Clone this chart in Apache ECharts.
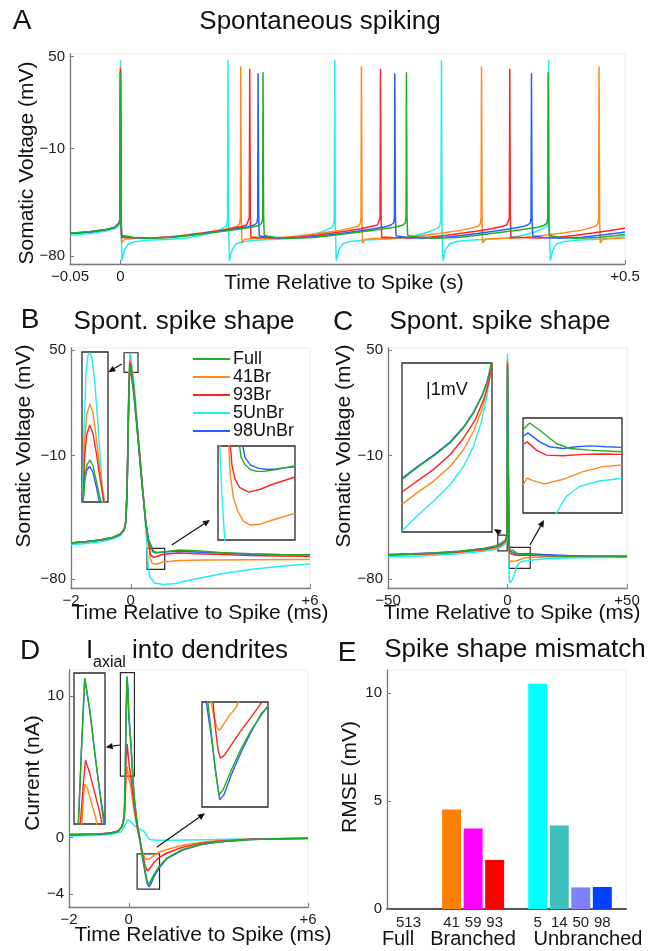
<!DOCTYPE html>
<html><head><meta charset="utf-8">
<script src="https://cdn.jsdelivr.net/npm/echarts@6/dist/echarts.min.js"></script>
<style>html,body{margin:0;padding:0;background:#fff}#c{width:654px;height:951px}</style>
</head><body><div id="c"></div><script>
// ---------- names / ticks ----------
const traceNames = ['Full','41Br','93Br','5UnBr','98UnBr'];
const aXTicks = [-0.05, 0, 0.5], aYTicks = [-80, -10, 50];
const bXTicks = [-2, 0, 6], bYTicks = [-80, -10, 50];
const cXTicks = [-50, 0, 50], cYTicks = [-80, -10, 50];
const dXTicks = [-2, 0, 6], dYTicks = [-4, 0, 10];
const eYTicks = [0, 5, 10];
// ---------- panel A : spontaneous spiking (s, mV) ----------
const aFull = [[-0.05,-65.2],[-0.03,-64.1],[-0.015,-62.8],[-0.006,-61.3],[-0.0012,-58.5],[-0.0004,-55],
[0,39.7],[0.0006,-55],[0.0012,-66.5],[0.004,-67],[0.012,-67.8],[0.028,-68.4],[0.05,-67.9],[0.066,-66.8],[0.082,-65.5],[0.098,-64.2],[0.115,-62.8],[0.13,-61.3],[0.1375,-60],[0.1401,-58.5],[0.1409,-55],
[0.1413,39.7],[0.1419,-55],[0.1425,-66.5],[0.1453,-67],[0.1533,-67.8],[0.1693,-68.4],[0.1913,-67.9],[0.2073,-66.8],[0.2233,-65.5],[0.2393,-64.2],[0.2563,-62.8],[0.2713,-61.3],[0.2796,-60],[0.2822,-58.5],[0.283,-55],
[0.2834,39.7],[0.284,-55],[0.2846,-66.5],[0.2874,-67],[0.2954,-67.8],[0.3114,-68.4],[0.3334,-67.9],[0.3494,-66.8],[0.3654,-65.5],[0.3814,-64.2],[0.3984,-62.8],[0.4134,-61.3],[0.42,-60],[0.4226,-58.5],[0.4234,-55],
[0.4238,39.7],[0.4244,-55],[0.425,-66.5],[0.4278,-67],[0.4358,-67.8],[0.4518,-68.4],[0.4738,-67.9],[0.4898,-66.8],[0.5,-66]];
const a98UnBr = [[-0.05,-65.4],[-0.03,-64.3],[-0.015,-63],[-0.006,-61.5],[-0.0012,-58.5],[-0.0004,-55],
[0,39],[0.0006,-55],[0.0012,-66.8],[0.004,-67.2],[0.012,-67.9],[0.028,-68.4],[0.05,-67.8],[0.066,-66.7],[0.082,-65.3],[0.098,-63.9],[0.113,-62.4],[0.126,-61],[0.1325,-59.8],[0.1352,-58.5],[0.136,-55],
[0.1364,39],[0.137,-55],[0.1376,-66.8],[0.1404,-67.2],[0.1484,-67.9],[0.1644,-68.4],[0.1864,-67.8],[0.2024,-66.7],[0.2184,-65.3],[0.2344,-63.9],[0.2494,-62.4],[0.2624,-61],[0.268,-59.8],[0.2707,-58.5],[0.2715,-55],
[0.2719,39],[0.2725,-55],[0.2731,-66.8],[0.2759,-67.2],[0.2839,-67.9],[0.2999,-68.4],[0.3219,-67.8],[0.3379,-66.7],[0.3539,-65.3],[0.3699,-63.9],[0.3849,-62.4],[0.3979,-61],[0.4034,-59.8],[0.4061,-58.5],[0.4069,-55],
[0.4073,39],[0.4079,-55],[0.4085,-66.8],[0.4113,-67.2],[0.4193,-67.9],[0.4353,-68.4],[0.4573,-67.8],[0.4733,-66.7],[0.4893,-65.3],[0.5,-64.4]];
const a93Br = [[-0.05,-65.3],[-0.03,-64.2],[-0.015,-62.9],[-0.006,-61.4],[-0.0012,-58.5],[-0.0004,-55],
[0,42],[0.0006,-55],[0.0012,-68],[0.004,-67.8],[0.012,-68],[0.028,-68.3],[0.05,-67.6],[0.066,-66.4],[0.082,-65],[0.098,-63.5],[0.11,-62.2],[0.12,-60.8],[0.1251,-59.8],[0.1269,-58.5],[0.1277,-55],
[0.1281,42],[0.1287,-55],[0.1293,-68],[0.1321,-67.8],[0.1401,-68],[0.1561,-68.3],[0.1781,-67.6],[0.1941,-66.4],[0.2101,-65],[0.2261,-63.5],[0.2381,-62.2],[0.2481,-60.8],[0.2547,-59.8],[0.2565,-58.5],[0.2573,-55],
[0.2577,42],[0.2583,-55],[0.2589,-68],[0.2617,-67.8],[0.2697,-68],[0.2857,-68.3],[0.3077,-67.6],[0.3237,-66.4],[0.3397,-65],[0.3557,-63.5],[0.3677,-62.2],[0.3777,-60.8],[0.3828,-59.8],[0.3846,-58.5],[0.3854,-55],
[0.3858,42],[0.3864,-55],[0.387,-68],[0.3898,-67.8],[0.3978,-68],[0.4138,-68.3],[0.4358,-67.6],[0.4518,-66.4],[0.4678,-65],[0.4838,-63.5],[0.4958,-62.2],[0.5,-61.7]];
const a41Br = [[-0.05,-65.3],[-0.03,-64.2],[-0.015,-62.9],[-0.006,-61.4],[-0.0012,-58.5],[-0.0004,-55],
[0,43.5],[0.0006,-58],[0.0012,-71.5],[0.004,-69],[0.012,-68.6],[0.028,-68.5],[0.05,-67.5],[0.066,-66.2],[0.082,-64.8],[0.098,-63.3],[0.108,-62],[0.1162,-60.5],[0.118,-59],[0.1188,-55],
[0.1192,43.5],[0.1198,-58],[0.1204,-71.5],[0.1232,-69],[0.1312,-68.6],[0.1472,-68.5],[0.1692,-67.5],[0.1852,-66.2],[0.2012,-64.8],[0.2172,-63.3],[0.2272,-62],[0.2358,-60.5],[0.2376,-59],[0.2384,-55],
[0.2388,43.5],[0.2394,-58],[0.24,-71.5],[0.2428,-69],[0.2508,-68.6],[0.2668,-68.5],[0.2888,-67.5],[0.3048,-66.2],[0.3208,-64.8],[0.3368,-63.3],[0.3468,-62],[0.3548,-60.5],[0.3566,-59],[0.3574,-55],
[0.3578,43.5],[0.3584,-58],[0.359,-71.5],[0.3618,-69],[0.3698,-68.6],[0.3858,-68.5],[0.4078,-67.5],[0.4238,-66.2],[0.4398,-64.8],[0.4558,-63.3],[0.4638,-62],[0.4713,-60.5],[0.4731,-59],[0.4739,-55],
[0.4743,43.5],[0.4749,-58],[0.4755,-71.5],[0.4783,-69],[0.4863,-68.6],[0.5,-68.5]];
const a5UnBr = [[-0.05,-66.5],[-0.03,-65.3],[-0.015,-63.9],[-0.006,-62.3],[-0.0012,-60],[-0.0004,-56],
[0,47.5],[0.0005,-60],[0.0015,-83],[0.004,-76],[0.008,-72],[0.015,-70.5],[0.03,-69.6],[0.05,-69],[0.065,-68.3],[0.08,-66.6],[0.092,-64.5],[0.1,-62.3],[0.1046,-60.8],[0.1061,-57],
[0.1066,47.5],[0.1071,-60],[0.1081,-83],[0.1106,-76],[0.1146,-72],[0.1216,-70.5],[0.1366,-69.6],[0.1566,-69],[0.1716,-68.3],[0.1866,-66.6],[0.1986,-64.5],[0.2066,-62.3],[0.2104,-60.8],[0.2119,-57],
[0.2124,47.5],[0.2129,-60],[0.2139,-83],[0.2164,-76],[0.2204,-72],[0.2274,-70.5],[0.2424,-69.6],[0.2624,-69],[0.2774,-68.3],[0.2924,-66.6],[0.3044,-64.5],[0.3124,-62.3],[0.3161,-60.8],[0.3176,-57],
[0.3181,47.5],[0.3186,-60],[0.3196,-83],[0.3221,-76],[0.3261,-72],[0.3331,-70.5],[0.3481,-69.6],[0.3681,-69],[0.3831,-68.3],[0.3981,-66.6],[0.4101,-64.5],[0.4181,-62.3],[0.4225,-60.8],[0.424,-57],
[0.4245,47.5],[0.425,-60],[0.426,-83],[0.4285,-76],[0.4325,-72],[0.4395,-70.5],[0.4545,-69.6],[0.4745,-69],[0.4895,-68.3],[0.5,-67.1]];
// ---------- panel B : spike shape (ms, mV) ----------
const bFull = [[-2,-59.4],[-1.5,-58.7],[-1,-57.7],[-0.6,-56.3],[-0.35,-54.5],[-0.22,-52],[-0.16,-47],[-0.12,-28],[-0.09,0],[-0.06,28],[-0.03,40.4],[0,39],[0.1,26],[0.2,8],[0.3,-11],[0.4,-30],[0.5,-47],[0.6,-58],[0.688,-62.2],[0.733,-64.5],[0.818,-65.25],[0.96,-65],[1.1,-64.6],[1.6,-63.6],[2.2,-64],[3,-64.9],[4,-65.7],[5,-66.1],[6,-66.4]];
const b41Br = [[-2,-59.5],[-1.5,-58.8],[-1,-57.8],[-0.6,-56.4],[-0.35,-54.6],[-0.22,-52],[-0.16,-47],[-0.12,-27],[-0.09,2],[-0.06,31],[-0.03,44.4],[0,43],[0.1,29],[0.2,10],[0.3,-9],[0.4,-29],[0.5,-47],[0.57,-57],[0.614,-62.2],[0.65,-68.4],[0.72,-71.2],[0.77,-71.7],[0.85,-71.6],[1,-70.8],[1.1,-70.3],[1.6,-69.5],[2.5,-69.2],[4,-69],[6,-68.9]];
const b93Br = [[-2,-59.5],[-1.5,-58.8],[-1,-57.8],[-0.6,-56.4],[-0.35,-54.6],[-0.22,-52],[-0.16,-47],[-0.12,-27],[-0.09,1],[-0.06,30],[-0.03,42.9],[0,41.5],[0.1,28],[0.2,9],[0.3,-10],[0.4,-30],[0.5,-48],[0.58,-58],[0.625,-62.2],[0.66,-66.2],[0.76,-67.7],[0.85,-67.4],[1,-66.4],[1.1,-65.9],[1.6,-65.3],[2.2,-65.6],[3,-66.1],[4,-66.6],[5,-66.9],[6,-67.1]];
const b5UnBr = [[-2,-60.5],[-1.5,-59.8],[-1,-58.8],[-0.6,-57.3],[-0.35,-55.3],[-0.22,-52.5],[-0.16,-47],[-0.12,-26],[-0.09,4],[-0.06,34],[-0.03,48],[0,46.5],[0.1,33],[0.2,12],[0.3,-8],[0.4,-29],[0.5,-51],[0.546,-62.2],[0.586,-73.5],[0.65,-79],[0.8,-82.3],[1.1,-83.1],[1.5,-82.6],[2,-80.6],[3,-77.2],[4,-74.6],[5,-72.8],[6,-71.5]];
const b98UnBr = [[-2,-59.5],[-1.5,-58.8],[-1,-57.8],[-0.6,-56.4],[-0.35,-54.6],[-0.22,-52],[-0.16,-47],[-0.12,-28.5],[-0.09,-0.5],[-0.06,27.5],[-0.03,39.9],[0,38.5],[0.1,25.5],[0.2,7.5],[0.3,-11.5],[0.4,-30.5],[0.5,-47.5],[0.6,-58],[0.71,-62.2],[0.77,-64.5],[0.83,-64.9],[0.89,-65],[1.03,-64.8],[1.1,-64.7],[1.6,-64.2],[2.2,-64.6],[3,-65.3],[4,-65.9],[5,-66.2],[6,-66.4]];
// ---------- panel C : spike shape, wide window (ms, mV) ----------
const cFull = [[-50,-66.2],[-40,-65.8],[-30,-65.2],[-20,-64.3],[-10,-62.8],[-5,-61.4],[-3.77,-60.7],[-2.3,-59.5],[-1.5,-58.8],[-0.9,-58.1],[-0.4,-57.3],[-0.2,-55],[-0.1,-20],[0,40.4],[0.15,20],[0.35,-20],[0.6,-58],[0.925,-63.5],[1.4,-62.8],[2.25,-63.7],[3.66,-65.2],[4.8,-65.8],[6.5,-66],[9.2,-66.2],[15,-66.6],[25,-66.9],[35,-67],[50,-67.1]];
const c41Br = [[-50,-66.5],[-40,-66.1],[-30,-65.6],[-20,-64.8],[-10,-63.5],[-5,-62.4],[-3.77,-61.9],[-2.3,-60.7],[-1.5,-60],[-0.9,-59.15],[-0.4,-58.2],[-0.2,-56],[-0.1,-20],[0,44.4],[0.15,23],[0.35,-18],[0.6,-62],[0.8,-70.5],[0.925,-70],[1.18,-69.4],[1.68,-69.65],[2.67,-70],[4.22,-69.5],[5.9,-68.6],[7.6,-68],[9.2,-67.8],[15,-67.5],[30,-67.3],[50,-67.3]];
const c93Br = [[-50,-66.4],[-40,-66],[-30,-65.5],[-20,-64.6],[-10,-63.2],[-5,-61.9],[-3.77,-61.3],[-2.3,-60.15],[-1.5,-59.4],[-0.9,-58.6],[-0.35,-57.6],[-0.2,-55.5],[-0.1,-20],[0,42.9],[0.15,22],[0.35,-19],[0.6,-60],[0.925,-65.2],[1.18,-65],[1.97,-66],[2.8,-66.6],[4.2,-66.7],[5.9,-66.5],[9.2,-66.5],[20,-66.9],[35,-67.1],[50,-67.2]];
const c5UnBr = [[-50,-67.5],[-40,-67.1],[-30,-66.5],[-20,-65.6],[-10,-64.3],[-5,-63.1],[-3.77,-62.5],[-2.3,-61.7],[-1.5,-60.9],[-0.9,-60],[-0.4,-58.5],[-0.2,-56],[-0.1,-20],[0,47.9],[0.15,25],[0.35,-16],[0.55,-62],[0.65,-76],[0.85,-82.3],[1.2,-83.1],[2,-80.5],[3,-77],[3.66,-73.5],[4.5,-71.5],[5.62,-70.35],[7.03,-69.76],[9.2,-69.36],[15,-68.7],[25,-68.1],[35,-67.8],[50,-67.6]];
const c98UnBr = [[-50,-66.1],[-40,-65.7],[-30,-65.1],[-20,-64.2],[-10,-62.7],[-5,-61.3],[-3.77,-60.6],[-2.3,-59.4],[-1.5,-58.7],[-0.9,-58],[-0.4,-57.2],[-0.2,-55],[-0.1,-20],[0,39.9],[0.15,19],[0.35,-21],[0.6,-58],[0.925,-64.2],[1.26,-64],[2.25,-65],[3.1,-65.6],[4.2,-65.8],[5.3,-65.6],[7.9,-65.6],[9.2,-65.7],[15,-66.1],[25,-66.6],[35,-66.9],[50,-67.1]];
// ---------- panel D : axial current (ms, nA) ----------
const dFull = [[-2,0.2],[-1,0.25],[-0.6,0.32],[-0.35,0.45],[-0.22,0.8],[-0.15,1.5],[-0.12,4],[-0.09,8.5],[-0.06,11.4],[-0.03,10.6],[0,8.8],[0.07,6.7],[0.18,2.9],[0.28,1.05],[0.37,0],[0.45,-1.2],[0.55,-2.4],[0.62,-3.1],[0.67,-3.32],[0.72,-3.2],[0.85,-2.6],[1,-2.1],[1.28,-1.44],[1.8,-0.85],[2.4,-0.5],[3,-0.3],[4.1,-0.14],[5,-0.09],[6,-0.07]];
const d41Br = [[-2,0.2],[-1,0.25],[-0.6,0.32],[-0.35,0.45],[-0.22,0.8],[-0.15,1.3],[-0.12,2.6],[-0.09,4.2],[-0.05,5],[0,4.2],[0.07,3.5],[0.18,1.9],[0.28,0.7],[0.37,-0.2],[0.45,-0.95],[0.55,-1.55],[0.6,-1.67],[0.68,-1.55],[0.85,-1.25],[1,-1.05],[1.28,-0.85],[1.8,-0.55],[2.4,-0.35],[3,-0.22],[4.1,-0.11],[6,-0.05]];
const d93Br = [[-2,0.2],[-1,0.25],[-0.6,0.32],[-0.35,0.45],[-0.22,0.8],[-0.15,1.4],[-0.12,3],[-0.09,5.5],[-0.05,6.6],[0,5.4],[0.07,4.3],[0.18,2.2],[0.28,0.8],[0.37,-0.2],[0.45,-1.1],[0.55,-2],[0.63,-2.38],[0.7,-2.2],[0.85,-1.75],[1,-1.45],[1.28,-1.1],[1.8,-0.7],[2.4,-0.42],[3,-0.27],[4.1,-0.13],[6,-0.06]];
const d5UnBr = [[-2,0.1],[-1,0.15],[-0.5,0.25],[-0.25,0.4],[-0.12,0.9],[-0.04,1.25],[0.05,1.15],[0.2,0.8],[0.35,0.6],[0.5,0.45],[0.6,0.15],[0.7,-0.14],[0.9,-0.2],[1.5,-0.2],[3,-0.15],[4.5,-0.1],[6,-0.06]];
const d98UnBr = [[-2,0.18],[-1,0.23],[-0.6,0.3],[-0.35,0.43],[-0.22,0.78],[-0.15,1.5],[-0.12,4],[-0.09,8.4],[-0.06,11.3],[-0.03,10.5],[0,8.7],[0.07,6.6],[0.18,2.8],[0.28,0.95],[0.37,-0.1],[0.45,-1.3],[0.55,-2.55],[0.62,-3.25],[0.68,-3.5],[0.74,-3.3],[0.85,-2.75],[1,-2.2],[1.28,-1.5],[1.8,-0.9],[2.4,-0.52],[3,-0.32],[4.1,-0.15],[5,-0.1],[6,-0.07]];
// ---------- insets (magnified views, own data) ----------
const bIn1Full = [[-0.245,37],[-0.2,39.3],[-0.16,40.1],[-0.105,40.4],[-0.05,40],[0.015,38.9],[0.08,37.8],[0.13,37]];
const bIn141Br = [[-0.24,37],[-0.21,41.7],[-0.17,43.6],[-0.11,44.4],[-0.05,43.8],[0.015,42],[0.09,39.5],[0.19,37]];
const bIn193Br = [[-0.24,37],[-0.21,40.6],[-0.17,42.2],[-0.11,42.9],[-0.05,42.3],[0.015,40.9],[0.09,39],[0.18,37]];
const bIn15UnBr = [[-0.25,37],[-0.22,42.75],[-0.185,46.5],[-0.15,47.8],[-0.11,48.05],[-0.07,47.7],[-0.02,46.2],[0.04,43.3],[0.1,40.1],[0.155,37]];
const bIn198UnBr = [[-0.255,37],[-0.21,38.9],[-0.17,39.65],[-0.11,39.95],[-0.05,39.5],[0.015,38.5],[0.095,37]];
const bIn2Full = [[0.682,-61],[0.705,-63.56],[0.733,-64.46],[0.772,-65.03],[0.818,-65.25],[0.874,-65.25],[0.959,-65.03],[1.032,-64.8],[1.1,-64.57]];
const bIn241Br = [[0.61,-61],[0.625,-65.6],[0.648,-68.4],[0.682,-70.1],[0.721,-71.24],[0.772,-71.7],[0.846,-71.6],[0.93,-71.13],[1.015,-70.7],[1.1,-70.3]];
const bIn293Br = [[0.621,-61],[0.637,-64.46],[0.659,-66.15],[0.693,-67.17],[0.761,-67.74],[0.846,-67.4],[0.93,-66.83],[1.015,-66.38],[1.1,-65.93]];
const bIn25UnBr = [[0.544,-61],[0.563,-67.85],[0.588,-74.5]];
const bIn298UnBr = [[0.703,-61],[0.733,-63.56],[0.772,-64.46],[0.829,-64.86],[0.891,-65.03],[0.959,-64.97],[1.032,-64.8],[1.1,-64.69]];
const cIn1Full = [[-3.77,-60.66],[-3.07,-60.07],[-2.295,-59.48],[-1.52,-58.81],[-0.9,-58.06],[-0.435,-57.31],[-0.045,-56.47],[0.186,-55.8],[0.34,-55.13],[0.4,-54.6]];
const cIn141Br = [[-3.77,-61.91],[-3.07,-61.33],[-2.295,-60.74],[-1.52,-59.99],[-0.9,-59.15],[-0.435,-58.23],[-0.045,-57.14],[0.219,-55.97],[0.42,-54.97]];
const cIn193Br = [[-3.77,-61.29],[-3.07,-60.74],[-2.295,-60.15],[-1.52,-59.4],[-0.9,-58.57],[-0.355,-57.65],[0.03,-56.64],[0.265,-55.8],[0.42,-54.97]];
const cIn15UnBr = [[-3.77,-63.25],[-3.07,-62.5],[-2.295,-61.74],[-1.52,-60.91],[-0.9,-59.99],[-0.435,-58.98],[-0.091,-57.81],[0.186,-56.47],[0.374,-55.13]];
const cIn198UnBr = [[-3.77,-60.6],[-3.07,-60.02],[-2.295,-59.43],[-1.52,-58.76],[-0.9,-58.01],[-0.435,-57.26],[-0.045,-56.42],[0.186,-55.75],[0.34,-55.08],[0.4,-54.6]];
const cIn2Full = [[0.84,-63.6],[0.925,-63.46],[1.4,-62.79],[2.25,-63.66],[3.66,-65.23],[4.78,-65.82],[6.47,-66.02],[9.2,-66.21]];
const cIn241Br = [[0.84,-70.2],[0.925,-69.96],[1.18,-69.36],[1.68,-69.65],[2.67,-70.03],[4.22,-69.49],[5.91,-68.58],[7.6,-67.99],[9.2,-67.79]];
const cIn293Br = [[0.84,-65.35],[0.925,-65.23],[1.18,-65.04],[1.97,-66.02],[2.81,-66.61],[4.22,-66.69],[5.91,-66.53],[7.6,-66.49],[9.2,-66.53]];
const cIn25UnBr = [[3.4,-74.5],[3.66,-73.5],[4.5,-71.53],[5.62,-70.35],[7.03,-69.76],[9.2,-69.36]];
const cIn298UnBr = [[0.84,-64.35],[0.925,-64.25],[1.26,-63.97],[2.25,-65.04],[3.09,-65.62],[4.22,-65.82],[5.34,-65.62],[6.47,-65.51],[7.88,-65.62],[9.2,-65.7]];
const dIn1Full = [[-0.226,4],[-0.173,7.95],[-0.12,11.45],[-0.04,9.88],[0.04,7.79],[0.12,5.86],[0.19,4.2]];
const dIn141Br = [[-0.175,4],[-0.141,5.7],[-0.12,6.31],[-0.077,6.1],[-0.013,5.38],[0.051,4.73],[0.08,4.2]];
const dIn193Br = [[-0.2,4],[-0.146,6.18],[-0.109,7.47],[-0.04,6.83],[0.04,5.86],[0.12,4.89],[0.16,4.2]];
const dIn15UnBr = [];
const dIn198UnBr = [[-0.226,4],[-0.173,7.9],[-0.12,11.42],[-0.04,9.86],[0.04,7.78],[0.12,5.88],[0.2,4.3]];
const dIn2Full = [[0.35,-1],[0.396,-1.87],[0.441,-2.73],[0.483,-3.31],[0.529,-3.2],[0.623,-2.73],[0.737,-2.22],[0.85,-1.79],[0.964,-1.44],[1.04,-1.21]];
const dIn241Br = [[0.383,-1],[0.426,-1.48],[0.464,-1.75],[0.491,-1.79],[0.54,-1.64],[0.604,-1.44],[0.68,-1.25],[0.725,-1]];
const dIn293Br = [[0.41,-1],[0.441,-1.72],[0.472,-2.26],[0.498,-2.45],[0.547,-2.38],[0.623,-2.14],[0.737,-1.79],[0.85,-1.48],[0.945,-1.21],[0.99,-1.05]];
const dIn25UnBr = [];
const dIn298UnBr = [[0.33,-1],[0.396,-1.95],[0.453,-2.88],[0.491,-3.43],[0.54,-3.31],[0.623,-2.84],[0.737,-2.3],[0.85,-1.83],[0.964,-1.4],[1.04,-1.25]];
// ---------- panel E : RMSE bars ----------
const eCategories = ['513','','41','59','93','','5','14','50','98'];
const eRmse = [0, null, 4.6, 3.73, 2.27, null, 10.42, 3.86, 1.0, 1.02];
const eGroups = ['Full','Branched','Unbranched'];

// ---------- styles ----------
const FONT = "'Liberation Sans', Arial, Helvetica, sans-serif";
const COLORS = {'Full':'#22ad22','41Br':'#ff8a1c','93Br':'#ff2424','5UnBr':'#1ef0f0','98UnBr':'#2b5cff'};
const BAR_COLORS = ['#444','','#ff8000','#ff00ff','#ff0000','','#00ffff','#40bfbf','#8080ff','#0040ff'];
const DRAW_ORDER = ['5UnBr','41Br','93Br','98UnBr','Full'];
const AX = '#7a7a7a';

const panels = [
  {g:0, d:{'Full':aFull,'41Br':a41Br,'93Br':a93Br,'5UnBr':a5UnBr,'98UnBr':a98UnBr}},
  {g:1, d:{'Full':bFull,'41Br':b41Br,'93Br':b93Br,'5UnBr':b5UnBr,'98UnBr':b98UnBr}, box:[[[-0.224,48.4],[0.244,37.3]],[[0.545,-62.6],[1.137,-74.5]]]},
  {g:2, d:{'Full':cFull,'41Br':c41Br,'93Br':c93Br,'5UnBr':c5UnBr,'98UnBr':c98UnBr}, box:[[[-4.06,-55.05],[-0.13,-64.0]],[[0.75,-62.0],[9.5,-74.0]]]},
  {g:3, d:{'Full':dFull,'41Br':d41Br,'93Br':d93Br,'5UnBr':d5UnBr,'98UnBr':d98UnBr}, box:[[[-0.28,11.65],[0.19,4.34]],[[0.28,-1.17],[1.03,-3.66]]]},
  {g:5, inset:true, d:{'Full':bIn1Full,'41Br':bIn141Br,'93Br':bIn193Br,'5UnBr':bIn15UnBr,'98UnBr':bIn198UnBr}},
  {g:6, inset:true, d:{'Full':bIn2Full,'41Br':bIn241Br,'93Br':bIn293Br,'5UnBr':bIn25UnBr,'98UnBr':bIn298UnBr}},
  {g:7, inset:true, d:{'Full':cIn1Full,'41Br':cIn141Br,'93Br':cIn193Br,'5UnBr':cIn15UnBr,'98UnBr':cIn198UnBr}},
  {g:8, inset:true, d:{'Full':cIn2Full,'41Br':cIn241Br,'93Br':cIn293Br,'5UnBr':cIn25UnBr,'98UnBr':cIn298UnBr}},
  {g:9, inset:true, d:{'Full':dIn1Full,'41Br':dIn141Br,'93Br':dIn193Br,'5UnBr':dIn15UnBr,'98UnBr':dIn198UnBr}},
  {g:10, inset:true, d:{'Full':dIn2Full,'41Br':dIn241Br,'93Br':dIn293Br,'5UnBr':dIn25UnBr,'98UnBr':dIn298UnBr}}
];

const grids = [
  {left:70, top:54, width:555, height:210},
  {left:71, top:348, width:239, height:240},
  {left:388, top:348, width:239, height:240},
  {left:69, top:670, width:239, height:237},
  {left:387, top:670, width:239, height:239},
  {left:82, top:352, width:26, height:150},
  {left:218, top:446, width:77, height:94},
  {left:402, top:363, width:90, height:169},
  {left:523, top:418, width:99, height:95},
  {left:74, top:673, width:31, height:151},
  {left:202, top:702, width:66, height:105}
].map((g,i)=> i<5 ? Object.assign(g,{show:true, borderColor:'#ececec', borderWidth:1, z:0})
                  : Object.assign(g,{show:true, borderColor:'#2a2a2a', borderWidth:1.3, backgroundColor:'#fff', z:3}));

function fmtX(v){ return v===0 ? '0' : (v>0 ? '+'+v : '\u2212'+Math.abs(v)); }
function fmtY(v){ return v<0 ? '\u2212'+Math.abs(v) : String(v); }
function mainAxis(gi, min, max, ticks, fmt, pos, extra){
  return Object.assign({type:'value', gridIndex:gi, min:min, max:max, position:pos,
    axisLine:{show:true, onZero:false, lineStyle:{color:AX, width:1.3}},
    axisTick:{show:true, inside:true, length:4, customValues:ticks, lineStyle:{color:AX, width:1}},
    axisLabel:{customValues:ticks, formatter:fmt, color:'#1c1c1c', fontSize:15, fontFamily:FONT, margin:5},
    splitLine:{show:false}}, extra||{});
}
const insetRanges = [
  [5, -0.26, 0.24, 37.4, 48.1],
  [6, 0.535, 1.1, -73.5, -62.2],
  [7, -3.77, 0.42, -63.3, -54.8],
  [8, 0.84, 9.2, -73.5, -62.2],
  [9, -0.29, 0.2, 4.38, 11.68],
  [10, 0.29, 1.04, -3.6, -1.13]
];
const xAxes = [
  mainAxis(0, -0.05, 0.5, aXTicks, fmtX, 'bottom'),
  mainAxis(1, -2, 6, bXTicks, fmtX, 'bottom'),
  mainAxis(2, -50, 50, cXTicks, fmtX, 'bottom'),
  mainAxis(3, -2, 6, dXTicks, fmtX, 'bottom'),
  {type:'value', gridIndex:4, min:-1, max:10.1, position:'bottom',
    axisLine:{show:true, onZero:false, lineStyle:{color:'#555', width:2}},
    axisTick:{show:false},
    axisLabel:{customValues:eCategories.map((c,i)=>c?i:null).filter(v=>v!==null),
      formatter:v=>eCategories[Math.round(v)], color:'#1c1c1c', fontSize:15, fontFamily:FONT, margin:6},
    splitLine:{show:false}}
];
const yAxes = [
  mainAxis(0, -85.2, 51.6, aYTicks, fmtY, 'left'),
  mainAxis(1, -85.1, 51.1, bYTicks, fmtY, 'left'),
  mainAxis(2, -85.1, 51.1, cYTicks, fmtY, 'left'),
  mainAxis(3, -4.92, 11.84, dYTicks, fmtY, 'left'),
  mainAxis(4, 0, 11.06, eYTicks, fmtY, 'left')
];
insetRanges.forEach(r=>{
  xAxes.push({type:'value', gridIndex:r[0], min:r[1], max:r[2], show:false});
  yAxes.push({type:'value', gridIndex:r[0], min:r[3], max:r[4], show:false});
});

const series = [];
panels.forEach(p=>{
  DRAW_ORDER.forEach(name=>{
    const s = {type:'line', name:name, data:p.d[name], xAxisIndex:p.g, yAxisIndex:p.g,
      showSymbol:false, symbol:'none', clip:true, silent:true, animation:false,
      z: p.inset ? 5 : 2,
      lineStyle:{color:COLORS[name], width: p.inset ? 1.4 : 1.5}, itemStyle:{color:COLORS[name]}};
    if (name==='Full' && p.box){
      s.markArea = {silent:true, itemStyle:{color:'rgba(0,0,0,0)', borderColor:'#2a2a2a', borderWidth:1.2},
        data: p.box.map(b=>[{coord:b[0]},{coord:b[1]}])};
    }
    series.push(s);
  });
});
series.push({type:'bar', name:'RMSE', xAxisIndex:4, yAxisIndex:4, barWidth:19, silent:true,
  data: eCategories.map((c,i)=> eRmse[i]==null ? null : {value:[i, eRmse[i]], itemStyle:{color:BAR_COLORS[i]}}).filter(Boolean)});

// ---------- annotations ----------
function txt(x,y,s,size,opt){
  opt = opt||{};
  return {type:'text', x:x, y:y, rotation:opt.rot||0, z:20,
    style:{text:s, fill:'#111', font:(size)+'px '+FONT, fontSize:size, fontFamily:FONT,
      align:opt.align||'center', textAlign:opt.align||'center', verticalAlign:'middle', textVerticalAlign:'middle'}};
}
function arrow(x1,y1,x2,y2){
  const a = Math.atan2(y2-y1, x2-x1), L=7, W=3.2;
  const bx = x2 - L*Math.cos(a), by = y2 - L*Math.sin(a);
  return [
    {type:'line', z:20, shape:{x1:x1,y1:y1,x2:bx,y2:by}, style:{stroke:'#111', lineWidth:1.2}},
    {type:'polygon', z:20, shape:{points:[[x2,y2],[bx+W*Math.sin(a), by-W*Math.cos(a)],[bx-W*Math.sin(a), by+W*Math.cos(a)]]}, style:{fill:'#111'}}
  ];
}
const graphics = [
  txt(22,21,'A',28), txt(30,320,'B',28), txt(343,322,'C',28), txt(30,651,'D',28), txt(347,653,'E',28),
  txt(320,22,'Spontaneous spiking',26), txt(184,322,'Spont. spike shape',26), txt(500,322,'Spont. spike shape',26),
  txt(86,651,'I',26,{align:'left'}), txt(93,663,'axial',16,{align:'left'}), txt(132,651,'into dendrites',26,{align:'left'}),
  txt(515,650,'Spike shape mismatch',26),
  txt(27,163,'Somatic Voltage (mV)',21,{rot:Math.PI/2}), txt(344,283,'Time Relative to Spike (s)',21),
  txt(24,446,'Somatic Voltage (mV)',21,{rot:Math.PI/2}), txt(200,613,'Time Relative to Spike (ms)',21),
  txt(344,446,'Somatic Voltage (mV)',21,{rot:Math.PI/2}), txt(512,613,'Time Relative to Spike (ms)',21),
  txt(33,773,'Current (nA)',21,{rot:Math.PI/2}), txt(203,935,'Time Relative to Spike (ms)',21),
  txt(350,777,'RMSE (mV)',21,{rot:Math.PI/2}),
  txt(398,939,eGroups[0],20), txt(473,939,eGroups[1],20), txt(588,939,eGroups[2],20),
  txt(426,390,'|1mV',18,{align:'left'})
].concat(arrow(121.7,364,108.3,372.3), arrow(171.7,545,210,520), arrow(500.7,533.3,494,529),
         arrow(530,545,544,520), arrow(120,745,105.7,747.3), arrow(156.7,847.3,205,813.3));

const chart = echarts.init(document.getElementById('c'), null, {renderer:'canvas'});
chart.setOption({
  animation:false,
  backgroundColor:'#fff',
  textStyle:{fontFamily:FONT},
  grid:grids, xAxis:xAxes, yAxis:yAxes, series:series,
  legend:{data:traceNames, orient:'vertical', left:193, top:350, padding:0, icon:'rect', itemWidth:37, itemHeight:2, itemGap:0,
    selectedMode:false, textStyle:{fontSize:18, fontFamily:FONT, color:'#111', lineHeight:17.7, padding:[0,0,0,-2]}},
  graphic:graphics
});
</script></body></html>
